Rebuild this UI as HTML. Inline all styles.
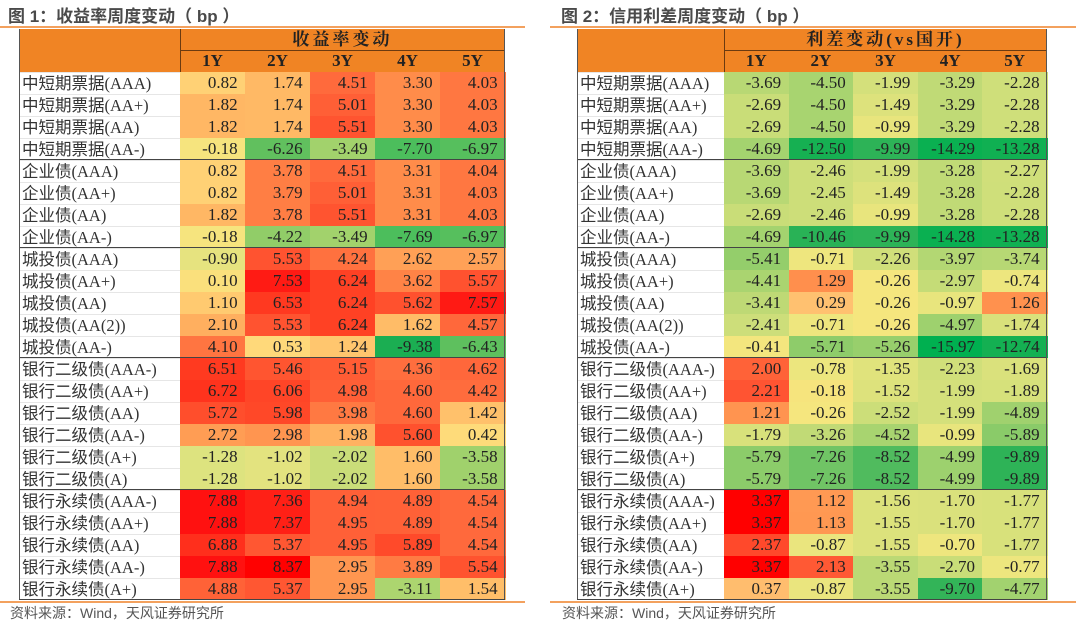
<!DOCTYPE html>
<html><head><meta charset="utf-8">
<style>
body{margin:0;width:1080px;height:627px;background:#fff;position:relative;overflow:hidden;font-family:"Liberation Serif","Noto Sans CJK SC",serif;}
.abs{position:absolute;box-sizing:border-box;}
.title{font-family:"Liberation Sans","Noto Sans CJK SC",sans-serif;font-size:17px;font-weight:bold;color:#4a4a4a;top:2px;}
.tline{height:2px;background:#F3A15E;top:26px;}
.hdr{background:#F08424;}
.htxt{font-weight:bold;font-size:17px;color:#222;text-align:center;line-height:22px;}
.lbl{font-size:16.5px;color:#333;line-height:22px;padding-left:3px;white-space:nowrap;font-family:"Liberation Serif","Noto Sans CJK SC",serif;}
.cell{font-size:17px;color:#222;text-align:right;line-height:22px;padding-right:8px;}
.foot{font-family:"Liberation Sans","Noto Sans CJK SC",sans-serif;font-size:14px;color:#555;top:603px;}
</style></head><body>
<div class="abs title" style="left:8px">图 1：收益率周度变动（ bp ）</div>
<div class="abs title" style="left:561px">图 2：信用利差周度变动（ bp ）</div>
<div class="abs tline" style="left:0;width:525px"></div>
<div class="abs tline" style="left:550px;width:526px"></div>
<div class="abs tline" style="left:0;width:525px;top:601px"></div>
<div class="abs tline" style="left:550px;width:526px;top:601px"></div>
<div class="abs foot" style="left:10px">资料来源：Wind，天风证券研究所</div>
<div class="abs foot" style="left:562px">资料来源：Wind，天风证券研究所</div>
<div id="root"></div>
<script>
const rowLabels=["中短期票据(AAA)","中短期票据(AA+)","中短期票据(AA)","中短期票据(AA-)","企业债(AAA)","企业债(AA+)","企业债(AA)","企业债(AA-)","城投债(AAA)","城投债(AA+)","城投债(AA)","城投债(AA(2))","城投债(AA-)","银行二级债(AAA-)","银行二级债(AA+)","银行二级债(AA)","银行二级债(AA-)","银行二级债(A+)","银行二级债(A)","银行永续债(AAA-)","银行永续债(AA+)","银行永续债(AA)","银行永续债(AA-)","银行永续债(A+)"];
const tenors=["1Y","2Y","3Y","4Y","5Y"];
const groupEnds=[4,8,13,19];
const yieldChg=[
[0.82,1.74,4.51,3.30,4.03],[1.82,1.74,5.01,3.30,4.03],[1.82,1.74,5.51,3.30,4.03],[-0.18,-6.26,-3.49,-7.70,-6.97],
[0.82,3.78,4.51,3.31,4.04],[0.82,3.79,5.01,3.31,4.03],[1.82,3.78,5.51,3.31,4.03],[-0.18,-4.22,-3.49,-7.69,-6.97],
[-0.90,5.53,4.24,2.62,2.57],[0.10,7.53,6.24,3.62,5.57],[1.10,6.53,6.24,5.62,7.57],[2.10,5.53,6.24,1.62,4.57],[4.10,0.53,1.24,-9.38,-6.43],
[6.51,5.46,5.15,4.36,4.62],[6.72,6.06,4.98,4.60,4.42],[5.72,5.98,3.98,4.60,1.42],[2.72,2.98,1.98,5.60,0.42],[-1.28,-1.02,-2.02,1.60,-3.58],[-1.28,-1.02,-2.02,1.60,-3.58],
[7.88,7.36,4.94,4.89,4.54],[7.88,7.37,4.95,4.89,4.54],[6.88,5.37,4.95,5.89,4.54],[7.88,8.37,2.95,3.89,5.54],[4.88,5.37,2.95,-3.11,1.54]];
const spreadChg=[
[-3.69,-4.50,-1.99,-3.29,-2.28],[-2.69,-4.50,-1.49,-3.29,-2.28],[-2.69,-4.50,-0.99,-3.29,-2.28],[-4.69,-12.50,-9.99,-14.29,-13.28],
[-3.69,-2.46,-1.99,-3.28,-2.27],[-3.69,-2.45,-1.49,-3.28,-2.28],[-2.69,-2.46,-0.99,-3.28,-2.28],[-4.69,-10.46,-9.99,-14.28,-13.28],
[-5.41,-0.71,-2.26,-3.97,-3.74],[-4.41,1.29,-0.26,-2.97,-0.74],[-3.41,0.29,-0.26,-0.97,1.26],[-2.41,-0.71,-0.26,-4.97,-1.74],[-0.41,-5.71,-5.26,-15.97,-12.74],
[2.00,-0.78,-1.35,-2.23,-1.69],[2.21,-0.18,-1.52,-1.99,-1.89],[1.21,-0.26,-2.52,-1.99,-4.89],[-1.79,-3.26,-4.52,-0.99,-5.89],[-5.79,-7.26,-8.52,-4.99,-9.89],[-5.79,-7.26,-8.52,-4.99,-9.89],
[3.37,1.12,-1.56,-1.70,-1.77],[3.37,1.13,-1.55,-1.70,-1.77],[2.37,-0.87,-1.55,-0.70,-1.77],[3.37,2.13,-3.55,-2.70,-0.77],[0.37,-0.87,-3.55,-9.70,-4.77]];

const stopsL=[[-9.4,"#1AAE52"],[-7.7,"#4CBE5C"],[-6.3,"#60C05E"],[-3.5,"#A2D26C"],[-1.3,"#DDE37F"],[-0.2,"#F6E47E"],[0.5,"#FFDA7A"],[1.7,"#FFBA66"],[3.3,"#FF8C4A"],[4.5,"#FF6A3C"],[5.5,"#FF5430"],[6.5,"#FF3A20"],[7.9,"#FF1010"],[8.4,"#FF0000"]];
const stopsR=[[-16,"#00B050"],[-12.7,"#14B052"],[-9.9,"#2EB357"],[-8.5,"#50BB5E"],[-7.3,"#6FC465"],[-5.7,"#8ECC6A"],[-4.5,"#A8D470"],[-3.3,"#C0DA76"],[-2.3,"#CFDF7A"],[-1.5,"#DDE27C"],[-0.7,"#EEE67E"],[-0.2,"#F6E67E"],[0.3,"#FFC070"],[1.2,"#FF9550"],[2.2,"#FF5532"],[3.37,"#FF0000"]];
function hex(c){return [1,3,5].map(i=>parseInt(c.substr(i,2),16));}
function colorFor(v,stops){
  if(v<=stops[0][0])return stops[0][1];
  for(let i=1;i<stops.length;i++){
    if(v<=stops[i][0]){const a=hex(stops[i-1][1]),b=hex(stops[i][1]);const t=(v-stops[i-1][0])/(stops[i][0]-stops[i-1][0]);
      return "rgb("+a.map((x,k)=>Math.round(x+(b[k]-x)*t)).join(",")+")";}
  }
  return stops[stops.length-1][1];
}
const root=document.getElementById('root');
function mk(cls,style,txt){const d=document.createElement('div');d.className='abs '+cls;Object.assign(d.style,style);if(txt!==undefined)d.textContent=txt;root.appendChild(d);return d;}
function buildTable(x0,xl,x1,head,data,stops,prefix){
  const top=29,h1=21,h2=22,rowH=22,y0=72,cw=(x1-xl)/5;
  let e=mk('hdr',{left:x0+'px',top:top+'px',width:(x1-x0)+'px',height:(y0-top)+'px'});
  
  
  e=mk('htxt',{left:xl+'px',top:top+'px',width:(x1-xl)+'px',height:h1+'px',letterSpacing:'3px',fontFamily:'"Liberation Serif","Noto Serif CJK SC",serif'},head);
  
  
  mk('',{left:xl+'px',top:(top+h1)+'px',width:(x1-xl)+'px',height:'1px',background:'#6b3a10'});
  mk('',{left:xl+'px',top:top+'px',width:'1px',height:(y0-top)+'px',background:'#6b3a10'});
  tenors.forEach((t,j)=>{e=mk('htxt',{left:(xl+j*cw)+'px',top:(top+h1)+'px',width:cw+'px',height:h2+'px'},t);
    
    });
  rowLabels.forEach((lab,i)=>{
    const y=y0+i*rowH;
    e=mk('lbl',{left:x0+'px',top:y+'px',width:(xl-x0)+'px',height:rowH+'px',borderTop:'1px solid #e6e6e6',lineHeight:'21px'},lab);
    
    
    data[i].forEach((v,j)=>{
      e=mk('cell',{left:(xl+j*cw)+'px',top:y+'px',width:(cw+0.6)+'px',height:rowH+'px',background:colorFor(v,stops)},v.toFixed(2));
      
      
    });
  });
  groupEnds.forEach(g=>mk('',{left:x0+'px',top:(y0+g*rowH-1)+'px',width:(x1-x0)+'px',height:'1px',background:'#444'}));
  mk('',{left:x0+'px',top:top+'px',width:'1px',height:(y0+24*rowH-top)+'px',background:'#555'});
  mk('',{left:(x1-1)+'px',top:top+'px',width:'1px',height:(y0+24*rowH-top)+'px',background:'#555'});
  mk('',{left:x0+'px',top:(y0+24*rowH-1)+'px',width:(x1-x0)+'px',height:'1px',background:'#444'});
}
buildTable(19,180,505,"收益率变动",yieldChg,stopsL,'yield');
buildTable(577,724,1047,"利差变动(vs国开)",spreadChg,stopsR,'spread');
</script>
</body></html>
